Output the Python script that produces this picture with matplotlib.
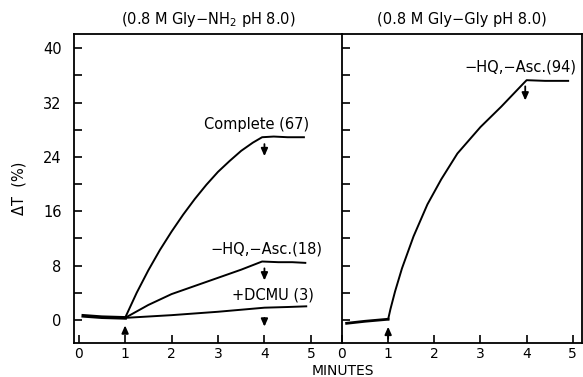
import matplotlib
matplotlib.use("Agg")
import matplotlib.pyplot as plt
from matplotlib.ticker import MultipleLocator

# --- data (minutes, Delta T %) ---
gly_nh2_base_x = [0.1, 0.5, 1.0]
gly_nh2_base_y = [0.6, 0.4, 0.3]

complete_x = [1.0, 1.25, 1.5, 1.75, 2.0, 2.25, 2.5, 2.75, 3.0, 3.25, 3.5, 3.75, 3.95, 4.2, 4.5, 4.85]
complete_y = [0.3, 4.0, 7.3, 10.3, 13.0, 15.5, 17.8, 19.9, 21.8, 23.4, 24.9, 26.1, 26.9, 27.0, 26.9, 26.9]

nohq_x = [1.0, 1.5, 2.0, 2.5, 3.0, 3.5, 3.95, 4.3, 4.6, 4.88]
nohq_y = [0.3, 2.2, 3.8, 5.0, 6.2, 7.4, 8.6, 8.5, 8.5, 8.4]

dcmu_x = [1.0, 2.0, 3.0, 4.0, 4.5, 4.9]
dcmu_y = [0.3, 0.7, 1.2, 1.8, 1.9, 2.0]

gly_gly_base_x = [0.1, 0.5, 1.0]
gly_gly_base_y = [-0.5, -0.2, 0.1]

glygly_x = [1.0, 1.05, 1.15, 1.3, 1.55, 1.85, 2.15, 2.5, 3.0, 3.45, 3.9, 4.0, 4.4, 4.9]
glygly_y = [0.1, 1.6, 4.2, 7.6, 12.3, 17.0, 20.7, 24.5, 28.4, 31.4, 34.6, 35.3, 35.2, 35.2]

left_title = "(0.8 M Gly\u2212NH$_2$ pH 8.0)"
right_title = "(0.8 M Gly\u2212Gly pH 8.0)"

fig = plt.figure(figsize=(5.83, 3.77), dpi=100)
axL = fig.add_axes([74 / 583, 1 - 343 / 377, 268 / 583, 309 / 377])
axR = fig.add_axes([342 / 583, 1 - 343 / 377, 240 / 583, 309 / 377])

ylim = (-3.4, 42.1)
lw = 1.4
fs = 10.5
arrow = dict(arrowstyle="-|>,head_length=0.45,head_width=0.2", color="black", lw=1.3)


def style(ax):
    ax.set_ylim(*ylim)
    ax.yaxis.set_major_locator(MultipleLocator(8))
    ax.yaxis.set_minor_locator(MultipleLocator(4))
    ax.xaxis.set_major_locator(MultipleLocator(1))
    ax.tick_params(which="both", direction="in", length=6, width=1.2, labelsize=fs)
    ax.tick_params(axis="x", pad=3, labelsize=10)
    ax.tick_params(axis="y", pad=9)
    for s in ax.spines.values():
        s.set_linewidth(1.3)


# left panel
axL.plot(gly_nh2_base_x, gly_nh2_base_y, color="black", lw=2.6)
axL.plot(complete_x, complete_y, color="black", lw=lw)
axL.plot(nohq_x, nohq_y, color="black", lw=lw)
axL.plot(dcmu_x, dcmu_y, color="black", lw=lw)
axL.set_xlim(-0.1, 5.67)
style(axL)
axL.spines["right"].set_visible(False)
axL.set_ylabel("\u0394T  (%)", fontsize=fs, labelpad=12)
axL.set_title(left_title, fontsize=fs, pad=7)

axL.annotate("", xy=(1, -0.4), xytext=(1, -2.0), arrowprops=arrow)
axL.annotate("", xy=(4, 23.7), xytext=(4, 26.3), arrowprops=arrow)
axL.annotate("", xy=(4, 5.4), xytext=(4, 8.0), arrowprops=arrow)
axL.annotate("", xy=(4, -1.4), xytext=(4, 0.7), arrowprops=arrow)
axL.text(3.83, 28.8, "Complete (67)", ha="center", va="center", fontsize=fs)
axL.text(4.05, 10.5, "\u2212HQ,\u2212Asc.(18)", ha="center", va="center", fontsize=fs)
axL.text(4.19, 3.6, "+DCMU (3)", ha="center", va="center", fontsize=fs)

# right panel
axR.plot(gly_gly_base_x, gly_gly_base_y, color="black", lw=2.0)
axR.plot(glygly_x, glygly_y, color="black", lw=lw)
axR.set_xlim(0, 5.2)
style(axR)
axR.tick_params(axis="y", labelleft=False)
axR.set_title(right_title, fontsize=fs, pad=7)
axR.annotate("", xy=(1, -0.6), xytext=(1, -3.2), arrowprops=arrow)
axR.annotate("", xy=(3.97, 31.9), xytext=(3.97, 34.8), arrowprops=arrow)
axR.text(3.86, 37.2, "\u2212HQ,\u2212Asc.(94)", ha="center", va="center", fontsize=fs)

fig.text(343 / 583, 1 - 371 / 377, "MINUTES", ha="center", va="center", fontsize=10)

fig.savefig("out.png", dpi=100)
